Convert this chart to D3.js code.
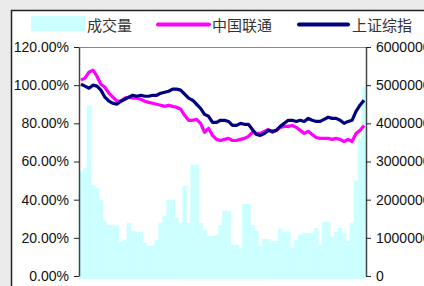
<!DOCTYPE html>
<html>
<head>
<meta charset="utf-8">
<script src="https://cdn.jsdelivr.net/npm/d3@7"></script>
<style>
  html, body { margin: 0; padding: 0; background: #ebebeb; }
  svg { display: block; }
</style>
</head>
<body>
<svg id="chart" width="424" height="286"></svg>
<script>
// series, one value per trading day slot
const volume = [
  2740000, 2840000, 4470000, 2390000, 2300000, 2000000, 1450000, 1340000, 1340000, 1320000,
  890000, 950000, 1390000, 1180000, 1160000, 1160000, 870000, 790000, 790000, 950000,
  1390000, 1580000, 2000000, 2000000, 1530000, 1390000, 2370000, 1390000, 2920000, 2920000,
  1390000, 1210000, 1050000, 1050000, 1080000, 1340000, 1710000, 1710000, 820000, 820000,
  740000, 1890000, 1890000, 1340000, 1180000, 790000, 970000, 970000, 920000, 920000,
  1240000, 1160000, 1160000, 740000, 950000, 1080000, 1130000, 1130000, 1130000, 1260000,
  820000, 1420000, 1420000, 1030000, 1160000, 1260000, 1130000, 920000, 1390000, 2500000,
  3580000, 4950000
];
const unicom = [
  102.6, 103.7, 106.8, 107.9, 104.7, 100.5, 98.9, 95.8, 93.7, 91.6,
  91.6, 93.2, 93.7, 93.2, 93.2, 92.6, 91.6, 91.0, 90.5, 90.0,
  89.5, 88.9, 89.5, 88.9, 88.4, 87.4, 84.2, 81.6, 81.6, 82.1,
  80.0, 75.3, 77.4, 73.7, 71.6, 71.0, 71.6, 72.1, 71.0, 71.0,
  71.6, 72.1, 73.2, 75.3, 74.7, 74.7, 75.8, 76.8, 75.3, 76.3,
  77.9, 78.4, 78.4, 78.9, 77.9, 76.3, 74.7, 75.8, 74.2, 72.6,
  72.1, 72.1, 72.1, 71.6, 72.1, 71.6, 70.5, 71.6, 70.5, 74.7,
  76.3, 78.9
];
const shIndex = [
  100.5, 99.5, 98.4, 100.0, 99.5, 97.4, 93.7, 91.6, 90.5, 90.0,
  91.6, 92.6, 93.7, 94.7, 94.2, 94.7, 94.2, 94.2, 94.7, 94.7,
  95.8, 96.3, 96.8, 97.9, 97.9, 97.4, 95.3, 93.2, 92.1, 90.0,
  87.9, 84.7, 83.7, 80.5, 80.5, 81.6, 81.6, 81.0, 78.9, 78.9,
  80.0, 79.5, 79.5, 76.8, 74.2, 73.7, 74.7, 76.3, 75.8, 76.3,
  78.4, 80.0, 81.6, 81.6, 81.0, 81.6, 81.0, 82.6, 81.6, 81.0,
  81.0, 82.1, 83.2, 82.6, 82.6, 81.6, 80.0, 81.0, 81.6, 86.3,
  89.5, 92.1
];
const pctTicks = [0, 20, 40, 60, 80, 100, 120];
const volTicks = [0, 1000000, 2000000, 3000000, 4000000, 5000000, 6000000];
const legendNames = ["成交量", "中国联通", "上证综指"];

const svg = d3.select("#chart");
const W = 424, H = 286;
const margin = { top: 47, right: 58, bottom: 10, left: 79 };
const plotW = W - margin.left - margin.right;
const plotH = H - margin.top - margin.bottom - 0;

// white chart area with dark border at left/top
svg.append("rect").attr("x", 11).attr("y", 10).attr("width", W).attr("height", H).attr("fill", "#fff");
svg.append("line").attr("x1", 11).attr("x2", W).attr("y1", 10.5).attr("y2", 10.5)
  .attr("stroke", "#222").attr("stroke-width", 1.5);
svg.append("line").attr("x1", 11.5).attr("x2", 11.5).attr("y1", 10).attr("y2", H)
  .attr("stroke", "#222").attr("stroke-width", 1.5);

const g = svg.append("g").attr("transform", `translate(${margin.left}, ${margin.top})`);

const idx = d3.range(volume.length);
const x = d3.scaleBand().domain(idx).range([0, plotW]).padding(0);
const yPct = d3.scaleLinear().domain([0, 120]).range([229, 0]);
const yVol = d3.scaleLinear().domain([0, 6000000]).range([229, 0]);

// top frame line
g.append("line").attr("x1", 0).attr("x2", plotW).attr("y1", 0.5).attr("y2", 0.5)
  .attr("stroke", "#888").attr("stroke-width", 1);

// volume bars
g.selectAll(".bar")
  .data(volume)
  .join("rect")
  .attr("class", "bar")
  .attr("x", (d, i) => x(i) - 0.3)
  .attr("width", x.bandwidth() + 0.6)
  .attr("y", d => yVol(d))
  .attr("height", d => yVol(0) - yVol(d) + 3)
  .attr("fill", "#ccffff");

// lines
const line = (vals) => d3.line()
  .x((d, i) => x(i) + x.bandwidth() / 2)
  .y(d => yPct(d))(vals);

g.append("path").attr("d", line(unicom)).attr("fill", "none")
  .attr("stroke", "#ff00ff").attr("stroke-width", 3.2).attr("stroke-linejoin", "round");
g.append("path").attr("d", line(shIndex)).attr("fill", "none")
  .attr("stroke", "#000080").attr("stroke-width", 3.2).attr("stroke-linejoin", "round");

// axes
const axisL = g.append("g")
  .call(d3.axisLeft(yPct).tickValues(pctTicks).tickSize(5).tickSizeOuter(0)
    .tickFormat(d => d.toFixed(2) + "%"));
const axisR = g.append("g").attr("transform", `translate(${plotW}, 0)`)
  .call(d3.axisRight(yVol).tickValues(volTicks).tickSize(5).tickSizeOuter(0)
    .tickFormat(d => String(d)));

[axisL, axisR].forEach(a => {
  a.select(".domain").attr("stroke", "#444").attr("stroke-width", 1.5);
  a.selectAll(".tick line").attr("stroke", "#222");
  a.selectAll("text").attr("fill", "#111")
    .style("font-family", "'Liberation Sans', Arial, sans-serif").style("font-size", "14px");
});
axisL.selectAll("text").attr("x", -10);
axisR.selectAll("text").attr("x", 10);

// legend
const lg = svg.append("g").style("font-family", "'Noto Sans CJK SC', sans-serif").style("font-size", "15px");
lg.append("rect").attr("x", 31).attr("y", 16).attr("width", 54).attr("height", 15).attr("fill", "#ccffff");
lg.append("text").attr("x", 87).attr("y", 31).attr("fill", "#333").text(legendNames[0]);
lg.append("line").attr("x1", 158).attr("x2", 209).attr("y1", 24.5).attr("y2", 24.5)
  .attr("stroke", "#ff00ff").attr("stroke-width", 4).attr("stroke-linecap", "round");
lg.append("text").attr("x", 212).attr("y", 31).attr("fill", "#333").text(legendNames[1]);
lg.append("line").attr("x1", 299).attr("x2", 348).attr("y1", 24.5).attr("y2", 24.5)
  .attr("stroke", "#000080").attr("stroke-width", 4).attr("stroke-linecap", "round");
lg.append("text").attr("x", 352).attr("y", 31).attr("fill", "#333").text(legendNames[2]);
</script>
</body>
</html>
